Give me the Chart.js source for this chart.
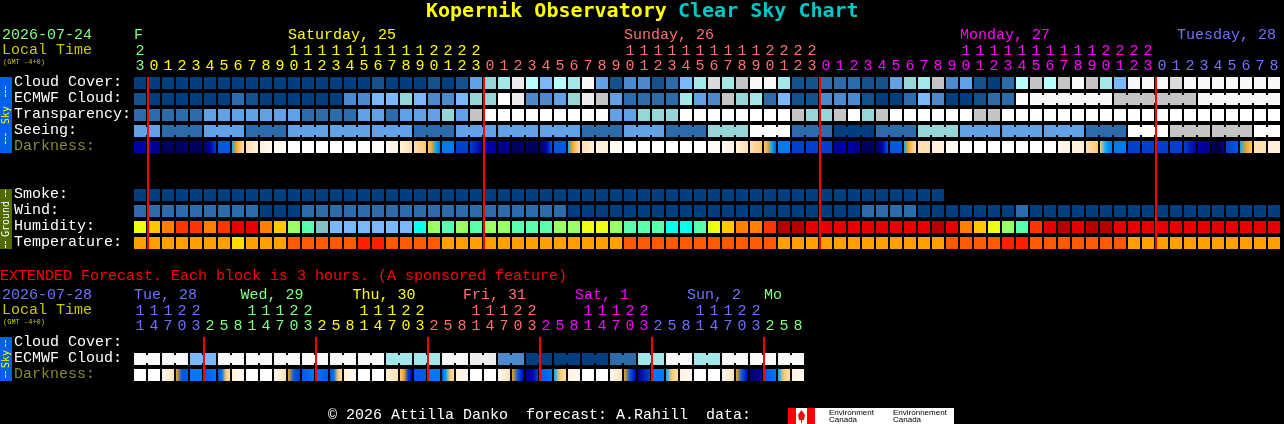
<!DOCTYPE html>
<html><head><meta charset="utf-8">
<style>
html,body{margin:0;padding:0;background:#000;width:1284px;height:424px;overflow:hidden}
canvas{position:absolute;left:0;display:block}
#main{top:0}#ext{top:260px}
</style>
<script src="https://cdn.jsdelivr.net/npm/chart.js@4/dist/chart.umd.min.js"></script>
</head><body>
<canvas id="main" width="1284" height="260"></canvas>
<canvas id="ext" width="1284" height="164"></canvas>
<script>
// ---------- categories ----------
const mainHours=[23,0,1,2,3,4,5,6,7,8,9,10,11,12,13,14,15,16,17,18,19,20,21,22,23,0,1,2,3,4,5,6,7,8,9,10,11,12,13,14,15,16,17,18,19,20,21,22,23,0,1,2,3,4,5,6,7,8,9,10,11,12,13,14,15,16,17,18,19,20,21,22,23,0,1,2,3,4,5,6,7,8];
const extHours=[11,14,17,20,23,2,5,8,11,14,17,20,23,2,5,8,11,14,17,20,23,2,5,8,11,14,17,20,23,2,5,8,11,14,17,20,23,2,5,8,11,14,17,20,23,2,5,8];
const mainRows=['Cloud Cover:','ECMWF Cloud:','Transparency:','Seeing:','Darkness:','','','Smoke:','Wind:','Humidity:','Temperature:'];
const extRows=['Cloud Cover:','ECMWF Cloud:','Darkness:'];
const mainDayNames=['F','Saturday, 25','Sunday, 26','Monday, 27','Tuesday, 28'];
const mainDayCols=[0,11,35,59,84];
const mainDaySpans=[1,24,24,24,9];
const mainDayColors=['#80ff80','#ffff00','#ff7070','#ff00ff','#7070ff'];
const extDayNames=['Tue, 28','Wed, 29','Thu, 30','Fri, 31','Sat, 1','Sun, 2','Mo'];
const extDayCols=[0,7.6,15.6,23.5,31.5,39.5,45];
const extDaySpans=[5,8,8,8,8,8,3];
const extDayColors=['#7070ff','#80ff80','#ffff00','#ff7070','#ff00ff','#7070ff','#80ff80'];
const mainMidnights=[1,25,49,73];
const extMidnights=[5,13,21,29,37,45];

// ---------- series (levels of each colour key) ----------
const cloudCover=[0,0,0,0,0,0,0,0,0,0,0,0,0,0,0,0,0,1,0,0,0,1,0,1,4,6,7,11,8,5,8,7,12,4,1,3,3,1,2,5,7,10,7,9,12,12,7,1,1,2,2,2,1,1,4,6,7,9,3,4,1,0,2,8,9,8,9,12,9,7,5,12,12,12,10,12,12,12,12,12,12,12];
const ecmwf=[1,0,0,0,0,0,0,2,1,0,0,0,0,0,0,3,3,5,5,6,5,3,3,5,6,6,13,11,3,3,4,6,11,9,4,2,2,2,2,7,4,3,9,6,7,2,5,1,1,3,3,3,1,0,0,2,5,3,0,0,1,2,2,13,12,12,12,12,12,12,9,9,9,9,9,9,12,12,12,12,12,12];
const transparency=[2,2,2,2,2,4,4,4,4,4,4,4,2,2,2,2,4,4,2,4,4,4,6,4,9,13,13,13,13,13,13,13,13,13,4,4,6,6,6,13,13,13,13,13,13,13,13,9,6,6,9,13,6,9,13,13,13,13,13,13,9,9,13,13,13,13,13,13,13,13,13,13,13,13,13,13,13,13,13,13,13,13];
const seeing=[4,4,2,2,2,4,4,4,2,2,2,4,4,4,4,4,4,4,4,4,2,2,2,4,4,4,4,4,4,4,4,4,2,2,2,4,4,4,2,2,2,6,6,6,13,13,13,2,2,2,0,0,0,2,2,2,6,6,6,4,4,4,4,4,4,4,4,4,2,2,2,13,13,13,9,9,9,9,9,9,13,13];
const darkness=[[3,3],[3,2],[1,1],[1,1],[1,1],[1,3,4],[5,5],[7,8,9,10],[10,11],[11,12],[12,12],[13,13],[13,13],[13,13],[13,13],[13,13],[13,13],[12,13],[12,11],[11,10],[10,9],[9,8,7,6],[6,6],[4,4],[4,3],[3,3],[2,2],[1,1],[1,1],[1,3,5],[5,5],[7,8,9,10],[10,11],[11,11],[12,12],[13,13],[13,13],[13,13],[13,13],[13,13],[13,13],[12,12],[12,11],[11,10],[10,9],[9,8,7,5],[6,6],[4,4],[4,4],[4,4],[3,3],[3,2],[1,1],[1,3,5],[5,5],[7,8,9,10],[10,10],[11,11],[12,12],[13,13],[13,13],[13,13],[13,13],[13,13],[13,13],[13,13],[12,11],[11,11],[10,9],[9,7,6],[6,6],[4,4],[4,4],[4,4],[4,4],[4,3],[3,2],[1,0,3],[4,5],[7,8,9],[10,10],[11,11]];
const smoke=[0,0,0,0,0,0,0,0,0,0,0,0,0,0,0,0,0,0,0,0,0,0,0,0,0,0,0,0,0,0,0,0,0,0,0,0,0,0,0,0,0,0,0,0,0,0,0,0,0,0,0,0,0,0,0,0,0,0];
const wind=[2,2,2,2,2,2,2,2,2,0,0,0,2,2,2,2,2,2,2,2,2,2,2,2,2,2,2,2,2,2,2,0,0,0,0,0,0,0,0,0,0,0,0,0,0,0,0,0,0,0,0,0,2,2,2,2,0,0,0,0,0,0,0,2,0,0,0,0,0,0,0,0,0,0,0,0,0,0,0,0,0,0];
const humidity=[5,4,3,2,2,3,2,1,1,3,4,6,7,9,10,10,10,10,10,10,8,6,7,6,7,6,6,7,7,7,6,6,5,5,6,7,7,7,8,8,7,5,4,3,3,2,0,0,1,1,1,1,1,1,1,1,1,0,1,3,4,5,6,7,2,1,0,1,0,0,1,1,1,1,1,1,1,1,1,1,1,1];
const temperature=[0,0,0,0,0,0,0,1,0,0,0,2,2,2,2,2,3,3,2,2,2,2,0,0,0,0,0,0,0,0,0,0,0,0,0,2,2,2,2,2,2,2,2,2,2,2,0,0,0,0,0,0,0,0,0,0,0,0,2,2,2,2,3,3,2,2,2,2,2,2,2,0,0,0,0,0,0,0,0,0,0,0];
const extCloudCover=[];
const extEcmwf=[12,12,12,12,5,5,12,12,12,12,12,12,12,12,12,12,12,12,7,7,7,7,12,12,11,11,3,3,0,0,0,0,0,0,2,2,7,7,12,12,7,7,12,12,12,12,12,12];
const extDarkness=[[13,13],[13,13],[12,10],[8,5,5],[6,6],[5,6],[5,6,9,10],[11,12],[13,13],[13,13],[12,10],[8,5,4],[5,6],[6,5],[5,6,9,10],[11,12],[13,13],[13,13],[11,10],[9,8,4,3],[5,5],[6,6],[5,7,9,10],[11,12],[13,13],[13,13],[12,10],[8,5,3],[2,3,4],[5,6],[7,9,10],[11,12],[13,13],[13,13],[12,10],[8,5,3],[2,4],[6,6],[7,9,10],[11,12],[13,13],[13,13],[12,10],[8,5,3],[1,3],[5,6],[7,9,10],[11,12]];
// runs of columns that one forecast value covers
const seeingRuns=[2,3,3,3,3,3,3,3,3,3,3,3,3,3,3,3,3,3,3,3,3,3,3,3,3,3,3,2];
const ecmwfRuns=[1,1,1,1,1,1,1,1,1,1,1,1,1,1,1,1,1,1,1,1,1,1,1,1,1,1,1,1,1,1,1,1,1,1,1,1,1,1,1,1,1,1,1,1,1,1,1,1,1,1,1,1,1,1,1,1,1,1,1,1,1,1,1,1,6,6,6];
const extEcmwfRuns=[2,2,2,2,2,2,2,2,2,2,2,2,2,2,2,2,2,2,2,2,2,2,2,2];

// ---------- colour keys ----------
const cloudKey=['#003f7f','#13528f','#2c6cab','#4a8acd','#61a1e5','#7ab8fd','#96d6d6','#a3e8e8','#b5ffff','#c4c4c4','#dadada','#ececec','#f8f8f8','#ffffff'];
const darkKey=['#000030','#000060','#000088','#0000a8','#0040cc','#0058e0','#0078f0','#00a8ff','#f0a020','#ffc870','#ffe0b0','#fff0dc','#fffaf2','#ffffff'];
const humidKey=['#b60000','#e60000','#ff3500','#ff8000','#ffc800','#eeff14','#99ff66','#57ffaf','#09ffe9','#85bfbf','#7ab8fd'];
const tempKey=['#ffa000','#ffdc00','#ff5a00','#ff2000'];

const FONT='"Liberation Mono"';
const BOLD='"DejaVu Sans Mono"';
const CELL=0.375;
const cells=(levels,row)=>levels.map(()=>[row-CELL,row+CELL]);
const flat=(levels,key)=>levels.map(v=>key[v]);
const gradient=stops=>ctx=>{
  const c=ctx.chart,x=c.scales.x,s=stops[ctx.dataIndex];
  if(!s||!x||!c.chartArea)return '#000';
  const cx=x.getPixelForValue(ctx.dataIndex);
  const half=x.getPixelForValue(1)-x.getPixelForValue(0);
  if(!isFinite(cx)||!isFinite(half)||half<=0)return '#000';
  const h=half/2*12/14;
  const g=c.ctx.createLinearGradient(cx-h,0,cx+h,0);
  s.forEach((l,i)=>g.addColorStop(i/(s.length-1),darkKey[l]));
  return g;
};
const series=(levels,row,bg)=>({data:cells(levels,row),backgroundColor:bg});
const colorsBySpan=(spans,cols)=>spans.flatMap((n,i)=>Array(n).fill(cols[i]));

function text(c,s,x,y,color,font,align){
  c.fillStyle=color;c.font=font;c.textAlign=align||'left';c.textBaseline='middle';c.fillText(s,x,y);
}
function sideBar(chart,r0,r1,bg,fg,label,inner,outer){
  const c=chart.ctx,y=chart.scales.y,top=y.getPixelForValue(r0-CELL),bot=y.getPixelForValue(r1+CELL);
  const mid=(top+bot)/2;
  c.fillStyle=bg;c.fillRect(0,top,12,bot-top);
  c.fillStyle=fg;
  for(let d=inner;d<outer;d+=4){
    c.fillRect(5,mid-d-3,1,3);
    c.fillRect(5,mid+d,1,3);
  }
  c.save();c.translate(6,mid);c.rotate(-Math.PI/2);
  text(c,label,0,0,fg,'10px "DejaVu Sans Mono"','center');c.restore();
}
function joins(chart,runs,levels,row,key){
  const c=chart.ctx,x=chart.scales.x,y=chart.scales.y.getPixelForValue(row);
  let col=0;
  runs.forEach(n=>{
    for(let k=0;k<n-1;k++){
      c.fillStyle=key[levels[col+k]];
      c.fillRect(x.getPixelForValue(col+k)+6,y-4,2,8);
    }
    col+=n;
  });
}
function redLines(chart,cols,r0,r1){
  const c=chart.ctx,x=chart.scales.x,y=chart.scales.y;
  const top=y.getPixelForValue(r0-CELL),bot=y.getPixelForValue(r1+CELL);
  c.fillStyle='#ff0000';
  cols.forEach(k=>c.fillRect(x.getPixelForValue(k)-7,top,2,bot-top));
}
function dayHeads(chart,names,cols,colors,yy,right){
  const c=chart.ctx,x=chart.scales.x,f='15px '+FONT;
  c.font=f;
  names.forEach((n,i)=>{
    const w=c.measureText(n).width;
    let px=x.left+7+(cols[i]*14)-6;
    if(right&&px+w>right)px=right-w;
    text(c,n,px,yy,colors[i],f);
  });
}
function options(rows,padRight,padBottom,hourColors){
  return {
    responsive:false,animation:false,devicePixelRatio:1,events:[],
    layout:{padding:{left:14,right:padRight,top:0,bottom:padBottom}},
    plugins:{legend:{display:false},tooltip:{enabled:false},title:{display:false}},
    datasets:{bar:{grouped:false,barPercentage:12/14,categoryPercentage:1,borderWidth:0}},
    scales:{
      x:{type:'category',position:'top',offset:true,grid:{display:false,drawTicks:false},border:{display:false},
        afterFit:s=>{s.height=75},
        ticks:{autoSkip:false,maxRotation:0,minRotation:0,padding:1,font:{family:FONT,size:15,lineHeight:'15px'},
          color:ctx=>hourColors[ctx.index]}},
      y:{type:'linear',reverse:true,min:-0.5,max:rows.length-0.5,grid:{display:false,drawTicks:false},border:{display:false},
        afterFit:s=>{s.width=119},
        afterBuildTicks:s=>{s.ticks=rows.map((_,i)=>({value:i}))},
        ticks:{crossAlign:'far',padding:0,labelOffset:-1,autoSkip:false,font:{family:FONT,size:15},
          callback:v=>rows[v],color:ctx=>rows[ctx.index]==='Darkness:'?'#8a8a32':'#ffffff'}}
    }
  };
}
const hourLabel=h=>[h>=10?String(Math.floor(h/10)):'',String(h%10)];

new Chart(document.getElementById('main'),{
  type:'bar',
  data:{labels:mainHours.map(hourLabel),datasets:[
    series(cloudCover,0,flat(cloudCover,cloudKey)),
    series(ecmwf,1,flat(ecmwf,cloudKey)),
    series(transparency,2,flat(transparency,cloudKey)),
    series(seeing,3,flat(seeing,cloudKey)),
    series(darkness,4,gradient(darkness)),
    series(smoke,7,flat(smoke,cloudKey)),
    series(wind,8,flat(wind,cloudKey)),
    series(humidity,9,flat(humidity,humidKey)),
    series(temperature,10,flat(temperature,tempKey))
  ]},
  options:options(mainRows,3,9,colorsBySpan(mainDaySpans,mainDayColors)),
  plugins:[{id:'mainDecor',afterDraw(ch){
    const c=ch.ctx,f='15px '+FONT;
    joins(ch,seeingRuns,seeing,3,cloudKey);
    joins(ch,ecmwfRuns,ecmwf,1,cloudKey);
    redLines(ch,mainMidnights,0,10);
    sideBar(ch,0,4,'#0060ee','#ffff00','Sky',18,30);
    sideBar(ch,7,10,'#506a00','#ffffff','Ground',22,29);
    text(c,'Kopernik Observatory ',426,12,'#ffff00','bold 20px '+BOLD);
    text(c,'Clear Sky Chart',678,12,'#00c8c8','bold 20px '+BOLD);
    text(c,'2026-07-24',2,35,'#80ff80',f);
    text(c,'Local Time',2,50,'#c8c800',f);
    text(c,'(GMT -4+0)',3,62,'#c8c800','7px '+FONT);
    dayHeads(ch,mainDayNames,mainDayCols,mainDayColors,35,1276);
  }}]
});

new Chart(document.getElementById('ext'),{
  type:'bar',
  data:{labels:extHours.map(hourLabel),datasets:[
    series(extCloudCover,0,flat(extCloudCover,cloudKey)),
    series(extEcmwf,1,flat(extEcmwf,cloudKey)),
    series(extDarkness,2,gradient(extDarkness))
  ]},
  options:options(extRows,479,41,colorsBySpan(extDaySpans,extDayColors)),
  plugins:[{id:'extDecor',afterDraw(ch){
    const c=ch.ctx,f='15px '+FONT;
    joins(ch,extEcmwfRuns,extEcmwf,1,cloudKey);
    redLines(ch,extMidnights,0,2);
    sideBar(ch,0,2,'#0060ee','#ffff00','Sky',12,20);
    text(c,'EXTENDED Forecast. Each block is 3 hours. (A sponsored feature)',0,16,'#ff0000',f);
    text(c,'2026-07-28',2,35,'#7070ff',f);
    text(c,'Local Time',2,50,'#c8c800',f);
    text(c,'(GMT -4+0)',3,62,'#c8c800','7px '+FONT);
    dayHeads(ch,extDayNames,extDayCols,extDayColors,35);
    text(c,'\u00a9 2026 Attilla Danko  forecast: A.Rahill  data:',328,155,'#ffffff',f);
    // Environment Canada wordmark
    c.fillStyle='#ffffff';c.fillRect(788,148,166,16);
    c.fillStyle='#ff0000';c.fillRect(788,148,8,16);c.fillRect(807,148,8,16);
    c.beginPath();c.moveTo(801.5,150);c.lineTo(805,155);c.lineTo(804,160);c.lineTo(799,160);c.lineTo(798,155);c.closePath();c.fill();
    c.fillRect(801,160,1,3);
    const sf='8px "Liberation Sans"';
    text(c,'Environment',829,153,'#000000',sf);text(c,'Canada',829,160,'#000000',sf);
    text(c,'Environnement',893,153,'#000000',sf);text(c,'Canada',893,160,'#000000',sf);
  }}]
});
</script>
</body></html>
